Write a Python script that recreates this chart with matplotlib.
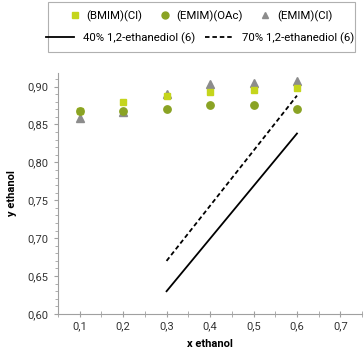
import matplotlib
matplotlib.use('Agg')
import matplotlib.pyplot as plt
from matplotlib.lines import Line2D
from matplotlib.patches import Rectangle
from matplotlib.ticker import MultipleLocator
import numpy as np

plt.rcParams['font.family'] = ['Roboto', 'DejaVu Sans']

x_il = [0.1, 0.2, 0.3, 0.4, 0.5, 0.6]
y_bmim_cl = [0.868, 0.879, 0.888, 0.893, 0.896, 0.898]
y_emim_oac = [0.868, 0.868, 0.871, 0.876, 0.875, 0.871]
y_emim_cl = [0.859, 0.866, 0.890, 0.903, 0.905, 0.907]

x_glycol = [0.3, 0.6]
y_glycol_40 = [0.630, 0.838]
y_glycol_70 = [0.670, 0.888]

c_square = '#c5d51c'
c_circle = '#8aa324'
c_tri = '#8c8c8c'
c_axis = '#a0a0a0'

fig = plt.figure(figsize=(3.64, 3.52), dpi=100)
ax = fig.add_axes([0.159, 0.108, 0.836, 0.685])

ax.plot(x_il, y_bmim_cl, ls='', marker='s', ms=5, color=c_square, zorder=3)
ax.plot(x_il, y_emim_oac, ls='', marker='o', ms=5.3, color=c_circle, zorder=3)
ax.plot(x_il, y_emim_cl, ls='', marker='^', ms=6, color=c_tri, zorder=2)
ax.plot(x_glycol, y_glycol_40, color='black', lw=1.3)
ax.plot(x_glycol, y_glycol_70, color='black', lw=1.3, ls=(0, (2.5, 1.6)))

ax.set_xlim(0.05, 0.75)
ax.set_ylim(0.60, 0.918)
ax.xaxis.set_major_locator(MultipleLocator(0.1))
ax.xaxis.set_minor_locator(MultipleLocator(0.05))
ax.yaxis.set_major_locator(MultipleLocator(0.05))
ax.yaxis.set_minor_locator(MultipleLocator(0.01))
ax.xaxis.set_major_formatter(lambda v, p: ('%.1f' % v).replace('.', ','))
ax.yaxis.set_major_formatter(lambda v, p: ('%.2f' % v).replace('.', ','))

for s in ['top', 'right']:
    ax.spines[s].set_visible(False)
for s in ['left', 'bottom']:
    ax.spines[s].set_color(c_axis)
    ax.spines[s].set_linewidth(0.8)
ax.tick_params(which='both', colors=c_axis, labelcolor='#333333', labelsize=8)
ax.tick_params(which='major', length=3)
ax.tick_params(which='minor', length=2)
ax.tick_params(axis='x', which='both', direction='inout', length=4)

ax.set_xlabel('x ethanol', fontsize=8, fontweight='bold', labelpad=5)
ax.set_ylabel('y ethanol', fontsize=8, fontweight='bold', labelpad=8)

fig.patches.append(Rectangle((48 / 364, 1 - 52 / 352), 307 / 364, 50 / 352,
                             transform=fig.transFigure, fill=False,
                             edgecolor='#b0b0b0', lw=0.8))

h1 = [Line2D([], [], ls='', marker='s', ms=5, color=c_square),
      Line2D([], [], ls='', marker='o', ms=5, color=c_circle),
      Line2D([], [], ls='', marker='^', ms=5, color=c_tri)]
l1 = ['(BMIM)(Cl)', '(EMIM)(OAc)', '(EMIM)(Cl)']
fig.legend(h1, l1, ncol=3, frameon=False, fontsize=8.2, loc='center',
           bbox_to_anchor=(200 / 364, 1 - 16 / 352), handlelength=1.3,
           columnspacing=1.3, handletextpad=0.4, borderpad=0)

h2 = [Line2D([], [], color='black', lw=1.3),
      Line2D([], [], color='black', lw=1.3, ls=(0, (2.5, 1.6)))]
l2 = ['40% 1,2-ethanediol (6)', '70% 1,2-ethanediol (6)']
fig.legend(h2, l2, ncol=2, frameon=False, fontsize=8.2, loc='center',
           bbox_to_anchor=(200 / 364, 1 - 38 / 352), handlelength=2.4,
           columnspacing=0.9, handletextpad=0.8, borderpad=0)

fig.savefig('out.png', dpi=100)
